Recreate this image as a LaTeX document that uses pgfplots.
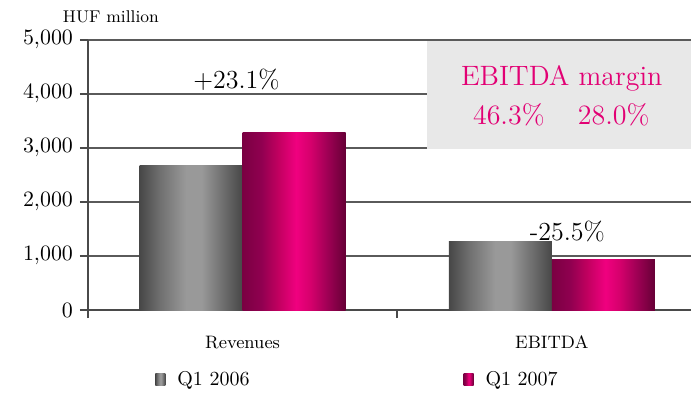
\documentclass[border=0pt]{standalone}
\usepackage{pgfplots}
\pgfplotsset{compat=1.18}
\definecolor{mag}{HTML}{E20074}
\definecolor{axc}{HTML}{4A4A4A}
\definecolor{grc}{HTML}{5A5A5A}
\definecolor{boxc}{HTML}{E8E8E8}
\definecolor{gA}{HTML}{474747}
\definecolor{gB}{HTML}{707070}
\definecolor{gC}{HTML}{999999}
\definecolor{mA}{HTML}{7A0042}
\definecolor{mB}{HTML}{900050}
\definecolor{mC}{HTML}{C0005F}
\definecolor{mD}{HTML}{F0007F}
\definecolor{mE}{HTML}{D5006C}
\definecolor{mF}{HTML}{A00055}
\definecolor{mG}{HTML}{660036}
\pgfdeclarehorizontalshading{grayshade}{100bp}{color(0bp)=(gA); color(25bp)=(gA); color(35bp)=(gB); color(47.5bp)=(gC); color(55bp)=(gC); color(65bp)=(gB); color(75bp)=(gA); color(100bp)=(gA)}
\pgfdeclarehorizontalshading{magshade}{100bp}{color(0bp)=(mA); color(25bp)=(mA); color(34bp)=(mB); color(42bp)=(mC); color(51bp)=(mD); color(58bp)=(mE); color(66bp)=(mF); color(75bp)=(mG); color(100bp)=(mG)}
\pgfplotsset{
  gbar/.style={draw=none, shade, shading=grayshade, bar shift=-25.75pt},
  mbar/.style={draw=none, shade, shading=magshade, bar shift=25.75pt},
}
\begin{document}
\begin{tikzpicture}
\useasboundingbox (-44pt,-41pt) rectangle (301.5pt,155pt);
\begin{axis}[
  at={(0pt,0pt)}, anchor=south west,
  scale only axis, width=301.5pt, height=135pt,
  clip=false,
  xmin=-0.5, xmax=1.45, ymin=0, ymax=5000,
  axis lines=left, axis line style={-, line width=1pt, color=axc},
  ytick={0,1000,2000,3000,4000,5000}, scaled y ticks=false,
  ymajorgrids, grid style={line width=0.9pt, color=grc},
  tick align=outside, major tick length=4pt,
  tick style={line width=1pt, color=axc},
  yticklabel style={font=\fontsize{10.5}{12}\selectfont},
  xtick={-0.5,0.5}, xticklabels={},
  extra x ticks={0,1}, extra x tick labels={Revenues,EBITDA},
  extra x tick style={major tick length=0pt, tick label style={font=\fontsize{9}{11}\selectfont, yshift=-9.5pt}},
  ybar, bar width=51.5pt,
  legend columns=2,
  legend entries={Q1 2006, Q1 2007},
  legend style={at={(0.111,-0.259)}, anchor=west, draw=none, fill=none, inner sep=0pt,
    font=\fontsize{10}{12}\selectfont,
    /tikz/every odd column/.append style={column sep=4pt},
    /tikz/every even column/.append style={column sep=105pt}},
  legend image code/.code={\path[#1] (0pt,-3pt) rectangle (5pt,3pt);},
]
\fill[boxc] (axis cs:0.595,2985) rectangle (axis cs:1.45,4975);
\addplot[gbar] coordinates {(0,2675)};
\addplot[gbar, forget plot] coordinates {(1,1265)};
\addplot[mbar] coordinates {(0,3293)};
\addplot[mbar, forget plot] coordinates {(1,943)};
\node[font=\fontsize{13}{15}\selectfont] at (axis cs:-0.02,4260) {+23.1\%};
\node[font=\fontsize{13}{15}\selectfont] at (axis cs:1.05,1445) {-25.5\%};
\node[mag, font=\fontsize{14}{16}\selectfont] at (axis cs:1.032,4290) {EBITDA margin};
\node[mag, font=\fontsize{14}{16}\selectfont] at (axis cs:0.861,3611) {46.3\%};
\node[mag, font=\fontsize{14}{16}\selectfont] at (axis cs:1.2,3611) {28.0\%};
\node[font=\fontsize{8.5}{10}\selectfont] at (rel axis cs:0.038,1.085) {HUF million};
\end{axis}
\end{tikzpicture}
\end{document}
